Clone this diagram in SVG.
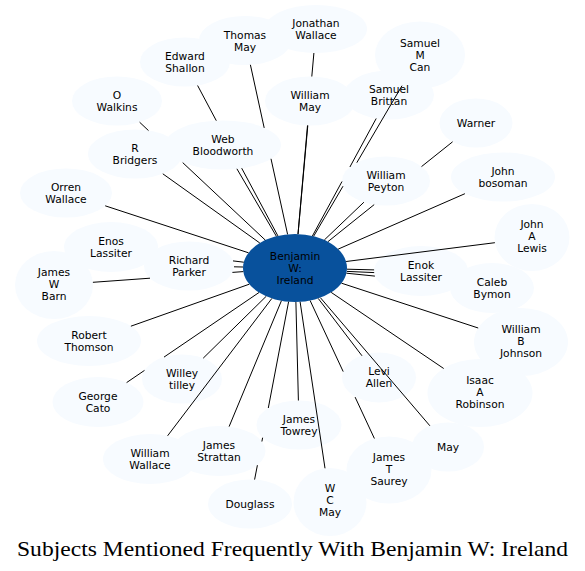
<svg xmlns="http://www.w3.org/2000/svg" width="585" height="571" viewBox="0 0 585 571">
<style>
.n ellipse{fill:#f7fbff;stroke:none}
#n0 ellipse{fill:#08519c}
.n text{font-family:"DejaVu Sans","Liberation Sans",sans-serif;font-size:10.7px;text-anchor:middle;fill:#000}
#edges path{stroke:#000;stroke-width:1;fill:none}
.title{font-family:"Liberation Serif","DejaVu Serif",serif;font-size:21px;fill:#000}
</style>
<rect width="585" height="571" fill="#fff"/>
<g id="nodes">
<g id="n0" class="n"><ellipse cx="295" cy="268" rx="52" ry="34"/><text x="295" y="260"><tspan x="295">Benjamin</tspan><tspan x="295" dy="12">W:</tspan><tspan x="295" dy="12">Ireland</tspan></text></g>
<g id="n_thomas_may" class="n"><ellipse cx="245" cy="40.5" rx="46" ry="24.5"/><text y="38.5"><tspan x="245">Thomas</tspan><tspan x="245" dy="12">May</tspan></text></g>
<g id="n_jonathan_wallace" class="n"><ellipse cx="316" cy="29" rx="51" ry="24"/><text y="26.9"><tspan x="316">Jonathan</tspan><tspan x="316" dy="12">Wallace</tspan></text></g>
<g id="n_edward_shallon" class="n"><ellipse cx="185" cy="62" rx="45" ry="24.5"/><text y="59.9"><tspan x="185">Edward</tspan><tspan x="185" dy="12">Shallon</tspan></text></g>
<g id="n_o_walkins" class="n"><ellipse cx="117" cy="101" rx="45" ry="24.5"/><text y="98.9"><tspan x="117">O</tspan><tspan x="117" dy="12">Walkins</tspan></text></g>
<g id="n_r_bridgers" class="n"><ellipse cx="135" cy="154" rx="47" ry="24.5"/><text y="151.9"><tspan x="135">R</tspan><tspan x="135" dy="12">Bridgers</tspan></text></g>
<g id="n_web_bloodworth" class="n"><ellipse cx="223" cy="145" rx="58" ry="24.5"/><text y="142.9"><tspan x="223">Web</tspan><tspan x="223" dy="12">Bloodworth</tspan></text></g>
<g id="n_orren_wallace" class="n"><ellipse cx="66" cy="193" rx="46" ry="24.5"/><text y="190.9"><tspan x="66">Orren</tspan><tspan x="66" dy="12">Wallace</tspan></text></g>
<g id="n_samuel_m_can" class="n"><ellipse cx="420" cy="55" rx="45" ry="33.5"/><text y="46.9"><tspan x="420">Samuel</tspan><tspan x="420" dy="12">M</tspan><tspan x="420" dy="12">Can</tspan></text></g>
<g id="n_william_may" class="n"><ellipse cx="310" cy="101" rx="45" ry="24.5"/><text y="98.9"><tspan x="310">William</tspan><tspan x="310" dy="12">May</tspan></text></g>
<g id="n_samuel_brittan" class="n"><ellipse cx="389" cy="95" rx="45" ry="24.5"/><text y="92.9"><tspan x="389">Samuel</tspan><tspan x="389" dy="12">Brittan</tspan></text></g>
<g id="n_warner" class="n"><ellipse cx="476" cy="123" rx="36.5" ry="24.5"/><text x="476" y="126.9">Warner</text></g>
<g id="n_william_peyton" class="n"><ellipse cx="386" cy="181" rx="44" ry="24.5"/><text y="178.9"><tspan x="386">William</tspan><tspan x="386" dy="12">Peyton</tspan></text></g>
<g id="n_john_bosoman" class="n"><ellipse cx="503" cy="177" rx="52" ry="24.5"/><text y="174.9"><tspan x="503">John</tspan><tspan x="503" dy="12">bosoman</tspan></text></g>
<g id="n_john_a_lewis" class="n"><ellipse cx="532" cy="237.5" rx="37.5" ry="33.5"/><text y="228.4"><tspan x="532">John</tspan><tspan x="532" dy="12">A</tspan><tspan x="532" dy="12">Lewis</tspan></text></g>
<g id="n_enok_lassiter" class="n"><ellipse cx="421" cy="271" rx="47" ry="25"/><text y="268.9"><tspan x="421">Enok</tspan><tspan x="421" dy="12">Lassiter</tspan></text></g>
<g id="n_caleb_bymon" class="n"><ellipse cx="492" cy="288" rx="42" ry="25"/><text y="285.9"><tspan x="492">Caleb</tspan><tspan x="492" dy="12">Bymon</tspan></text></g>
<g id="n_william_b_johnson" class="n"><ellipse cx="521" cy="342" rx="47" ry="34"/><text y="333.4"><tspan x="521">William</tspan><tspan x="521" dy="12">B</tspan><tspan x="521" dy="12">Johnson</tspan></text></g>
<g id="n_isaac_a_robinson" class="n"><ellipse cx="480" cy="393" rx="52.5" ry="34"/><text y="384.4"><tspan x="480">Isaac</tspan><tspan x="480" dy="12">A</tspan><tspan x="480" dy="12">Robinson</tspan></text></g>
<g id="n_may" class="n"><ellipse cx="448" cy="447" rx="36" ry="24.5"/><text x="448" y="450.9">May</text></g>
<g id="n_levi_allen" class="n"><ellipse cx="379" cy="377.5" rx="37" ry="25"/><text y="375.2"><tspan x="379">Levi</tspan><tspan x="379" dy="12">Allen</tspan></text></g>
<g id="n_james_t_saurey" class="n"><ellipse cx="389" cy="470" rx="42.5" ry="33.5"/><text y="461.4"><tspan x="389">James</tspan><tspan x="389" dy="12">T</tspan><tspan x="389" dy="12">Saurey</tspan></text></g>
<g id="n_w_c_may" class="n"><ellipse cx="330" cy="502" rx="36.5" ry="34"/><text y="492.4"><tspan x="330">W</tspan><tspan x="330" dy="12">C</tspan><tspan x="330" dy="12">May</tspan></text></g>
<g id="n_james_towrey" class="n"><ellipse cx="299" cy="425" rx="42.5" ry="24.5"/><text y="422.9"><tspan x="299">James</tspan><tspan x="299" dy="12">Towrey</tspan></text></g>
<g id="n_douglass" class="n"><ellipse cx="250" cy="504" rx="42" ry="24.5"/><text x="250" y="507.9">Douglass</text></g>
<g id="n_james_strattan" class="n"><ellipse cx="219" cy="451" rx="46.5" ry="25"/><text y="448.9"><tspan x="219">James</tspan><tspan x="219" dy="12">Strattan</tspan></text></g>
<g id="n_william_wallace" class="n"><ellipse cx="150" cy="459" rx="47" ry="25"/><text y="456.9"><tspan x="150">William</tspan><tspan x="150" dy="12">Wallace</tspan></text></g>
<g id="n_willey_tilley" class="n"><ellipse cx="182" cy="379" rx="40" ry="24.5"/><text y="376.9"><tspan x="182">Willey</tspan><tspan x="182" dy="12">tilley</tspan></text></g>
<g id="n_george_cato" class="n"><ellipse cx="98" cy="402" rx="45.5" ry="25"/><text y="399.9"><tspan x="98">George</tspan><tspan x="98" dy="12">Cato</tspan></text></g>
<g id="n_robert_thomson" class="n"><ellipse cx="89" cy="341" rx="52" ry="25"/><text y="338.9"><tspan x="89">Robert</tspan><tspan x="89" dy="12">Thomson</tspan></text></g>
<g id="n_james_w_barn" class="n"><ellipse cx="54" cy="285" rx="39" ry="34"/><text y="276.4"><tspan x="54">James</tspan><tspan x="54" dy="12">W</tspan><tspan x="54" dy="12">Barn</tspan></text></g>
<g id="n_richard_parker" class="n"><ellipse cx="189" cy="266" rx="45" ry="24.5"/><text y="263.9"><tspan x="189">Richard</tspan><tspan x="189" dy="12">Parker</tspan></text></g>
<g id="n_enos_lassiter" class="n"><ellipse cx="111" cy="247" rx="47" ry="25"/><text y="244.9"><tspan x="111">Enos</tspan><tspan x="111" dy="12">Lassiter</tspan></text></g>
</g>
<g id="edges">
<path id="e_thomas_may" d="M287.6,234.4L271,158.8M264.2,127.9L250.4,64.8"/>
<path id="e_jonathan_wallace" d="M298,234.1L307.5,125.5M311.8,76.5L313.9,53"/>
<path id="e_edward_shallon" d="M277.9,235.9L241.7,168.2M216.3,120.7L197.6,85.5"/>
<path id="e_o_walkins" d="M265.3,240.1L182.7,162.6M148.5,130.6L139.6,122.2"/>
<path id="e_r_bridgers" d="M259.8,243L162.8,173.8"/>
<path id="e_web_bloodworth" d="M276.4,236.3L236.9,168.8"/>
<path id="e_orren_wallace" d="M248.5,252.8L105.2,205.8"/>
<path id="e_william_may" d="M298,234.1L307.8,125.5"/>
<path id="e_samuel_brittan" d="M312.4,236L342,181.5M349.9,167L376.2,118.5"/>
<path id="e_samuel_m_can" d="M313.6,236.3L343,186.2M356.8,162.7L402,85.7"/>
<path id="e_warner" d="M327.9,241.7L374.2,204.6M421.5,166.6L452.6,141.8"/>
<path id="e_william_peyton" d="M324.4,239.9L363.9,202.2"/>
<path id="e_john_bosoman" d="M338.2,249.1L464.9,193.7"/>
<path id="e_john_a_lewis" d="M346.1,261.5L494.9,242.7"/>
<path id="e_enok_lassiter" d="M347,269.2L374.1,269.9"/>
<path id="e_enok_lassiter_2" d="M347,271.4L374.2,272.6"/>
<path id="e_caleb_bymon" d="M346.4,273.2L374.9,276.1"/>
<path id="e_william_b_johnson" d="M341.5,283.2L478.2,328"/>
<path id="e_isaac_a_robinson" d="M331.2,292.4L443.7,368.5"/>
<path id="e_may" d="M320.4,297.7L429.9,425.8"/>
<path id="e_levi_allen" d="M318.2,298.4L362,355.8"/>
<path id="e_james_t_saurey" d="M310.1,300.5L343.2,371.6M355.1,397.1L374.4,438.5"/>
<path id="e_w_c_may" d="M300.1,301.8L325,468.3"/>
<path id="e_james_towrey" d="M295.9,302L298.4,400.5"/>
<path id="e_douglass" d="M288.6,301.7L268.3,408M262.6,437.7L261.9,441.5M257.4,465.2L254.6,479.6"/>
<path id="e_james_strattan" d="M281.4,300.8L229.1,426.6"/>
<path id="e_william_wallace" d="M271.9,298.4L167.6,435.8"/>
<path id="e_willey_tilley" d="M266.2,296.3L203.2,358.2"/>
<path id="e_george_cato" d="M259,292.5L164,357.1M144.5,370.4L126.6,382.6"/>
<path id="e_robert_thomson" d="M249.3,284.2L130.9,326.2"/>
<path id="e_james_w_barn" d="M243.3,271.6L232.4,272.4M150,278.2L92.9,282.3"/>
<path id="e_richard_parker" d="M243,267L234,266.8"/>
<path id="e_enos_lassiter" d="M243.8,262.2L233,260.9"/>
</g>
<text class="title" x="17" y="555.5" textLength="551" lengthAdjust="spacingAndGlyphs">Subjects Mentioned Frequently With Benjamin W: Ireland</text>
</svg>
